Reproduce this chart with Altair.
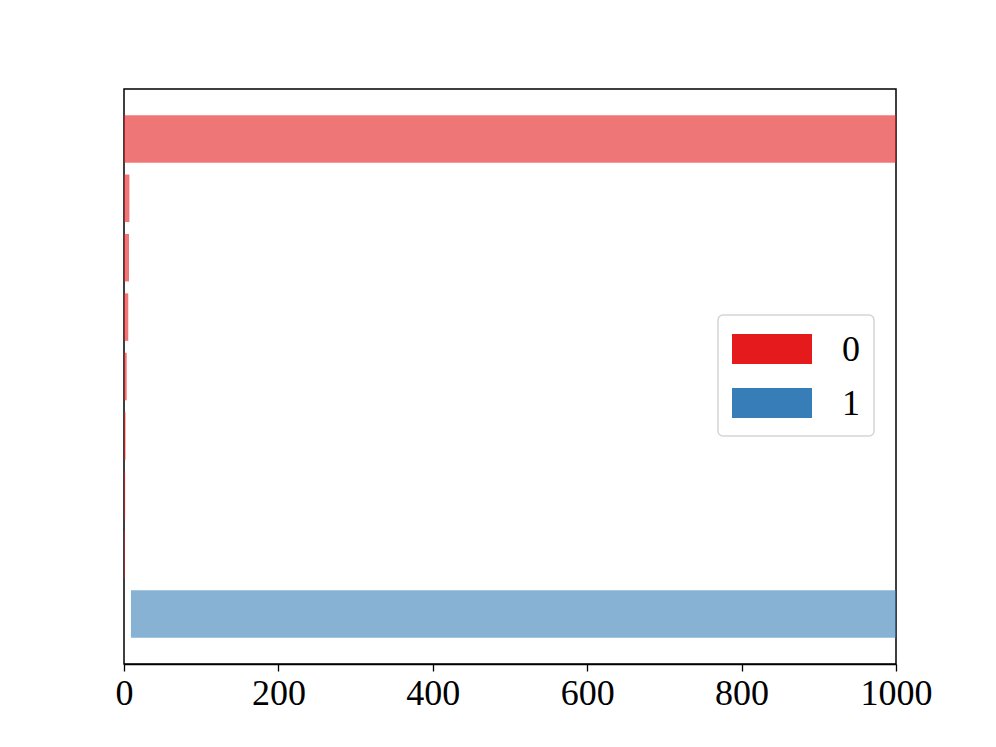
import altair as alt
import pandas as pd

rows = [0, 1, 2, 3, 4, 5, 6, 7, 8]
groups = ["0", "0", "0", "0", "0", "0", "0", "0", "1"]
starts = [0, 0, 0, 0, 0, 0, 0, 0, 9]
ends = [1200, 7, 6.5, 5.5, 3.5, 2, 1.5, 1.2, 1100]
x_ticks = [0, 200, 400, 600, 800, 1000]

df = pd.DataFrame({"row": rows, "group": groups, "start": starts, "end": ends})

FONT = "Liberation Serif"

chart = alt.Chart(df).mark_bar(opacity=0.6, clip=True).encode(
    y=alt.Y("row:O", axis=None,
            scale=alt.Scale(paddingInner=0.2, paddingOuter=0.44)),
    x=alt.X("start:Q",
            scale=alt.Scale(domain=[0, 1000], nice=False, zero=False),
            axis=alt.Axis(values=x_ticks, title=None, grid=False, format="d",
                          domainColor="black", domainWidth=1.5,
                          tickColor="black", tickWidth=1.3, tickSize=7,
                          labelFont=FONT, labelFontSize=36, labelColor="black",
                          labelPadding=5, labelFlush=False)),
    x2="end:Q",
    color=alt.Color("group:N",
                    scale=alt.Scale(domain=["0", "1"], range=["#e41a1c", "#377eb8"]),
                    legend=alt.Legend(title=None, orient="none", legendX=594, legendY=226,
                                      symbolType="M-1,-0.875L1,-0.875L1,-0.125L-1,-0.125Z",
                                      symbolSize=6400, symbolOpacity=1, symbolStrokeWidth=0,
                                      labelFont=FONT, labelFontSize=36, labelColor="black",
                                      labelBaseline="bottom",
                                      labelOffset=30, rowPadding=15, padding=14,
                                      strokeColor="#d5d5d5", fillColor="white",
                                      cornerRadius=5)),
).properties(
    width=772, height=575,
    autosize=alt.AutoSizeParams(type="none"),
    padding={"left": 116, "top": 81, "right": 60, "bottom": 60},
).configure_view(
    stroke="black", strokeWidth=1.5
).configure_legend(
    strokeWidth=1.5
)

chart.save("out.html", embed_options={"renderer": "svg", "actions": False})
